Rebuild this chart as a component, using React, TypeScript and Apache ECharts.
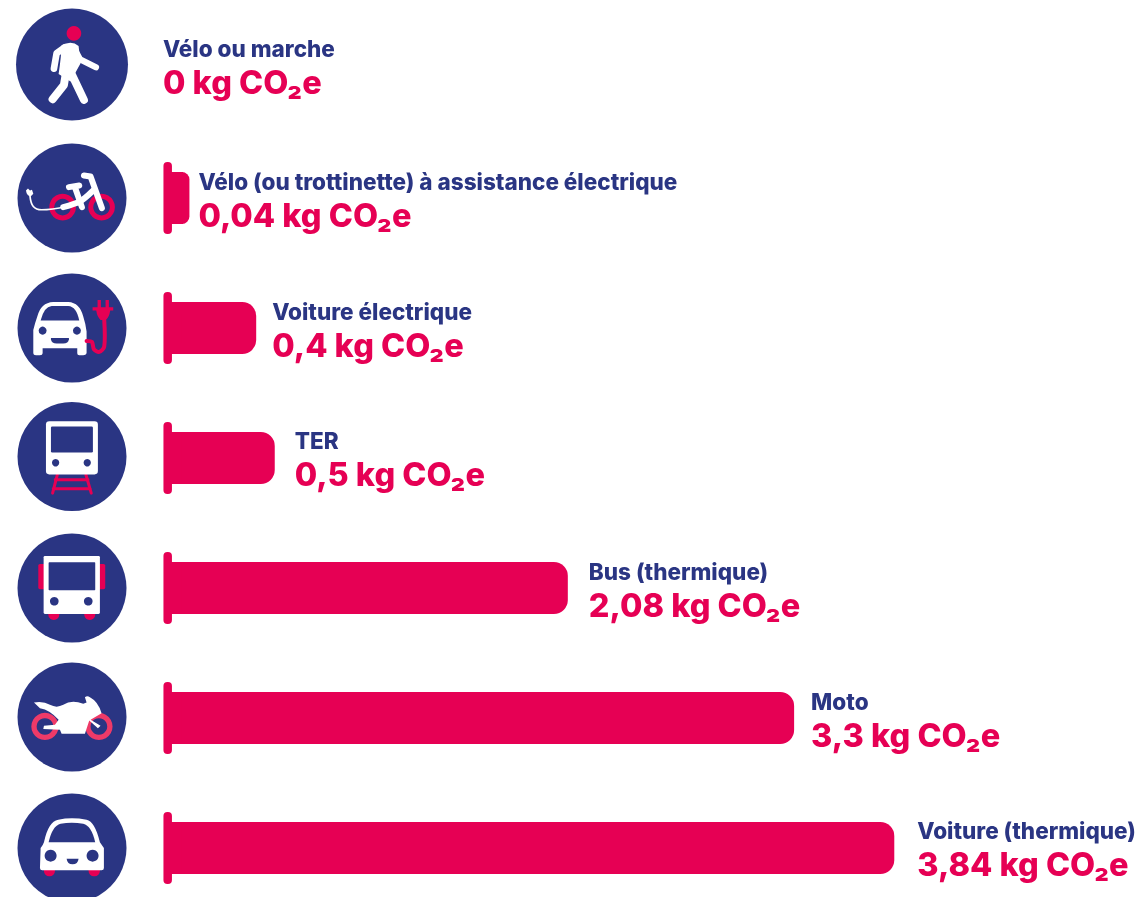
import React, { useEffect, useRef } from "react";
import * as echarts from "echarts";

const categories = [
  "Vélo ou marche",
  "Vélo (ou trottinette) à assistance électrique",
  "Voiture électrique",
  "TER",
  "Bus (thermique)",
  "Moto",
  "Voiture (thermique)",
];
const valuesKg = [0, 0.04, 0.4, 0.5, 2.08, 3.3, 3.84];
const valueLabels = ["0", "0,04", "0,4", "0,5", "2,08", "3,3", "3,84"];

const NAVY = "#2a3583";
const RED = "#e60054";
const WHITE = "#ffffff";
const MOTO_RED = "#ee3a68";

const labelNudgeX = [-19, 9, 16, 20, 21, 17, 23];
const labelNudgeY = [-1, 2, 2, 1, 2, 2, 1];
const iconCentersY = [64.5, 198, 328, 456.5, 588, 717, 848];
const iconRadii = [56, 54.5, 54.5, 54.5, 54.5, 54.5, 54.5];

const reg = (name: string, d: string) =>
  echarts.graphic.registerShape(name, echarts.graphic.extendPath(d, {}) as any);

reg(
  "eCar",
  "M100 280L100 210Q105 190 112 170Q122 128 160 126L205 126Q240 128 250 170Q258 195 260 215L260 280Q258 286 250 286L238 286Q232 286 232 280L232 265L128 265L128 280Q128 286 120 286L108 286Q100 286 100 280Z"
);
reg("eCarGlass", "M122 182L238 182Q230 140 205 138L155 138Q132 140 122 182Z");
reg("eCarSmile", "M153 234L207 234L207 238Q205 251 190 251L170 251Q155 251 153 238Z");
reg(
  "ePlug",
  "M293 120L303 120L303 142L317 142L317 120L327 120L327 142L340 142L340 152L331 152Q328 172 318 180L302 180Q292 172 289 152L278 152L278 142L293 142Z"
);
reg(
  "moto",
  "M102 548Q130 543 150 555Q170 566 190 555Q215 538 250 552L260 548L255 532Q262 526 270 532Q295 545 305 580L272 600L302 618L294 625L268 602L255 642L185 642L180 630L130 628L132 618L165 615L176 600Q150 570 120 565Z"
);
reg(
  "car",
  "M122 985Q130 975 132 968Q145 905 175 900Q215 892 260 900Q285 905 300 968L312 985L312 1045Q312 1052 305 1052L127 1052Q120 1052 120 1045Z"
);
reg("carGlass", "M146 968L286 968Q275 918 250 912Q215 906 182 912Q157 918 146 968Z");
reg("carSmile", "M200 1017L236 1017Q234 1034 218 1034Q202 1034 200 1017Z");
reg(
  "walkerTorso",
  "M185 136Q215 120 236 138L242 190L212 245L176 222Q184 170 185 136Z"
);
reg(
  "bikePlug",
  "M78 572L84 566L90 572L96 570L100 582L92 590L84 586L80 580Z"
);

const circle = (cx: number, cy: number, r: number, fill: string) => ({
  type: "circle",
  shape: { cx, cy, r },
  style: { fill },
});
const ring = (cx: number, cy: number, r: number, r0: number, fill: string) => ({
  type: "ring",
  shape: { cx, cy, r, r0 },
  style: { fill },
});
const rect = (x0: number, y0: number, x1: number, y1: number, fill: string, r: any = 0) => ({
  type: "rect",
  shape: { x: x0, y: y0, width: x1 - x0, height: y1 - y0, r },
  style: { fill },
});
const stroke = (points: number[][], color: string, lineWidth: number, smooth = 0) => ({
  type: "polyline",
  shape: { points, smooth },
  style: { fill: null, stroke: color, lineWidth, lineCap: "round", lineJoin: "round" },
});
const path = (type: string, fill: string) => ({ type, style: { fill } });

// Pictograms, in coordinates three times the page scale.
const pictograms = [
  [
    circle(222, 100, 22, RED),
    path("walkerTorso", WHITE),
    stroke([[195, 142], [170, 160], [162, 206]], WHITE, 20),
    stroke([[225, 150], [240, 178], [288, 202]], WHITE, 19),
    stroke([[215, 222], [252, 300]], WHITE, 24),
    stroke([[197, 225], [192, 255], [158, 298]], WHITE, 24),
  ],
  [
    ring(188, 622, 40, 25, RED),
    ring(305, 622, 40, 25, RED),
    stroke([[90, 588], [100, 620], [125, 630], [200, 620]], WHITE, 5, 0.4),
    path("bikePlug", WHITE),
    stroke([[190, 622], [240, 605], [282, 570]], WHITE, 18, 0.3),
    stroke([[252, 527], [272, 530], [306, 625]], WHITE, 18),
    stroke([[225, 562], [246, 622]], WHITE, 18),
    stroke([[207, 562], [238, 557]], WHITE, 18),
  ],
  [
    path("eCar", WHITE),
    path("eCarGlass", NAVY),
    circle(128, 212, 12, NAVY),
    circle(231, 212, 12, NAVY),
    path("eCarSmile", NAVY),
    stroke([[260, 243], [276, 246], [282, 268], [298, 276], [313, 260], [313, 180]], RED, 12, 0.3),
    path("ePlug", RED),
  ],
  [
    stroke([[172, 645], [158, 700]], RED, 9),
    stroke([[258, 645], [274, 700]], RED, 9),
    stroke([[166, 660], [264, 660]], RED, 9),
    stroke([[160, 687], [270, 687]], RED, 9),
    rect(138, 484, 294, 644, WHITE, 10),
    rect(153, 500, 279, 578, NAVY, 4),
    circle(167, 609, 11, NAVY),
    circle(262, 609, 11, NAVY),
  ],
  [
    rect(115, 132, 140, 208, RED, 5),
    rect(291, 132, 316, 208, RED, 5),
    rect(145, 270, 178, 300, RED, [0, 0, 16, 16]),
    rect(253, 270, 286, 300, RED, [0, 0, 16, 16]),
    rect(131, 108, 300, 282, WHITE, 4),
    rect(146, 127, 286, 211, NAVY, 2),
    circle(163, 244, 13, NAVY),
    circle(265, 244, 13, NAVY),
  ],
  [
    ring(135, 620, 41, 25, MOTO_RED),
    ring(297, 620, 41, 25, MOTO_RED),
    path("moto", WHITE),
  ],
  [
    rect(132, 1040, 165, 1070, RED, [0, 0, 16, 16]),
    rect(266, 1040, 300, 1070, RED, [0, 0, 16, 16]),
    path("car", WHITE),
    path("carGlass", NAVY),
    circle(152, 1008, 18, NAVY),
    circle(278, 1008, 18, NAVY),
    path("carSmile", NAVY),
  ],
];
const pictogramOffsetY = [0, 0, 260, 260, 520, 520, 520];

const AXIS_MIN = -0.1;
const AXIS_MAX = 5;

export default function App() {
  const ref = useRef<HTMLDivElement>(null);

  useEffect(() => {
    if (!ref.current) return;
    const chart = echarts.init(ref.current, undefined, { renderer: "svg" });

    const graphic = [
      ...iconCentersY.map((cy, i) => ({
        type: "circle",
        shape: { cx: 72, cy, r: iconRadii[i] },
        style: { fill: NAVY },
        silent: true,
      })),
      ...pictograms.map((children, i) => ({
        type: "group",
        x: 0,
        y: pictogramOffsetY[i],
        scaleX: 1 / 3,
        scaleY: 1 / 3,
        silent: true,
        children,
      })),
    ];

    chart.setOption({
      animation: false,
      textStyle: { fontFamily: "Inter" },
      grid: { left: 163.45, top: 3, width: 946, height: 910, containLabel: false },
      xAxis: { type: "value", min: AXIS_MIN, max: AXIS_MAX, show: false },
      yAxis: { type: "category", inverse: true, data: categories, show: false },
      graphic,
      series: [
        {
          type: "custom",
          z: 1,
          silent: true,
          encode: { x: 0, y: 1 },
          data: valuesKg.map((v, i) => [v, i]),
          renderItem: (_p: any, api: any) => {
            if (api.value(0) <= 0) return null;
            const row = api.value(1);
            const [xMin, y] = api.coord([AXIS_MIN, row]);
            const [xZero] = api.coord([0, row]);
            return {
              type: "group",
              children: [
                {
                  type: "rect",
                  shape: { x: xMin, y: y - 36, width: 8.5, height: 72, r: 4 },
                  style: { fill: RED },
                },
                {
                  type: "rect",
                  shape: { x: xMin + 4, y: y - 26, width: xZero - xMin - 3, height: 52 },
                  style: { fill: RED },
                },
              ],
            };
          },
        },
        {
          type: "bar",
          z: 2,
          barWidth: 52,
          silent: true,
          itemStyle: { color: RED, borderRadius: [0, 14, 14, 0] },
          data: valuesKg.map((v, i) => ({
            value: v,
            label: { offset: [labelNudgeX[i], labelNudgeY[i]] },
          })),
          label: {
            show: true,
            position: "right",
            distance: 0,
            formatter: (p: any) =>
              `{name|${categories[p.dataIndex]}}\n{val|${valueLabels[p.dataIndex]} kg CO₂e}`,
            rich: {
              name: {
                fontFamily: "Inter",
                fontWeight: 800,
                fontSize: 22.5,
                lineHeight: 30,
                color: NAVY,
              },
              val: {
                fontFamily: "Inter",
                fontWeight: 800,
                fontSize: 32.5,
                lineHeight: 37,
                color: RED,
              },
            },
          },
        },
      ],
    });

    return () => chart.dispose();
  }, []);

  return (
    <div
      style={{
        position: "fixed",
        left: 0,
        top: 0,
        width: 1141,
        height: 897,
        overflow: "hidden",
      }}
    >
      <div ref={ref} style={{ width: 1141, height: 930 }} />
    </div>
  );
}
